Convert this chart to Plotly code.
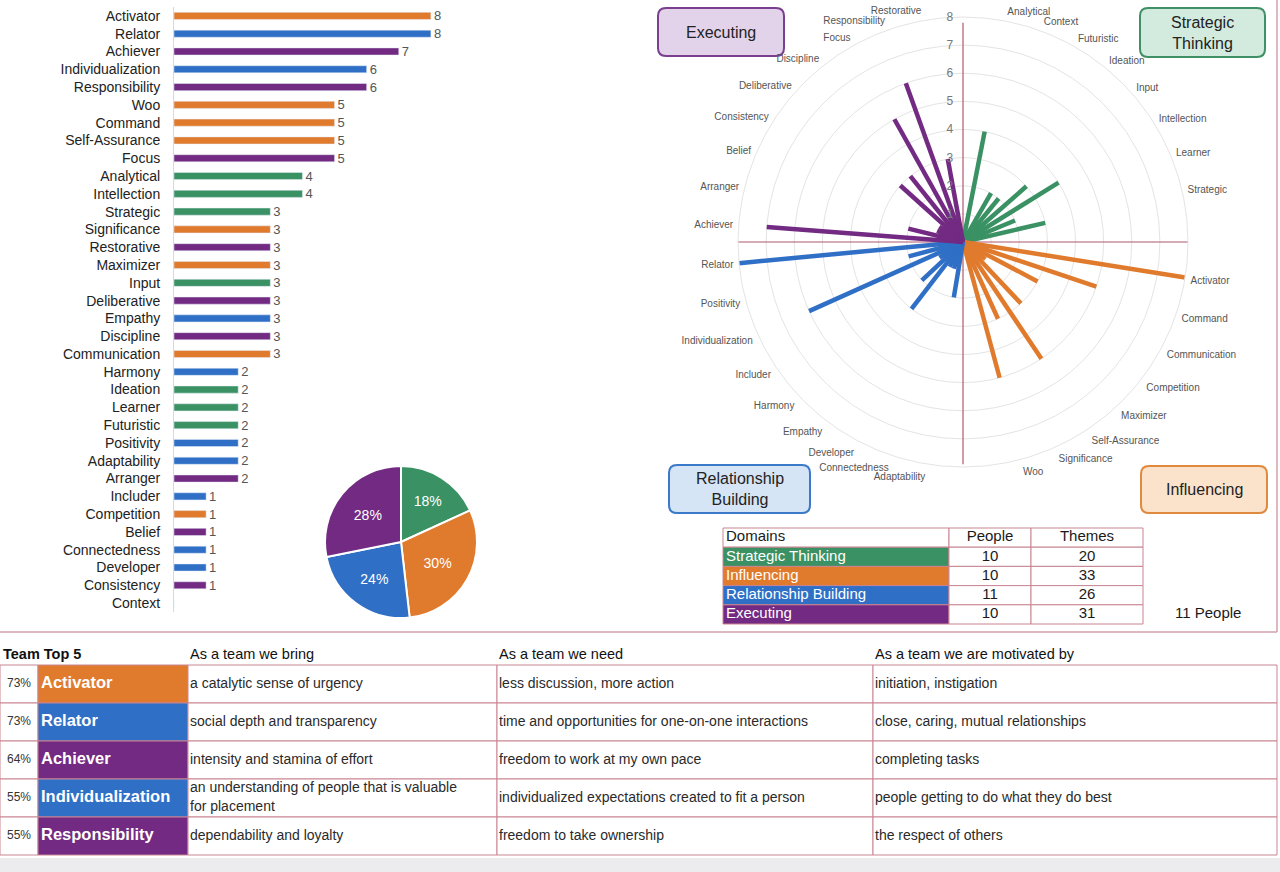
import plotly.graph_objects as go

# theme counts for the team, in the order of the bar chart
themes = ["Activator", "Relator", "Achiever", "Individualization", "Responsibility",
          "Woo", "Command", "Self-Assurance", "Focus", "Analytical", "Intellection",
          "Strategic", "Significance", "Restorative", "Maximizer", "Input",
          "Deliberative", "Empathy", "Discipline", "Communication", "Harmony",
          "Ideation", "Learner", "Futuristic", "Positivity", "Adaptability",
          "Arranger", "Includer", "Competition", "Belief", "Connectedness",
          "Developer", "Consistency", "Context"]
counts = [8, 8, 7, 6, 6, 5, 5, 5, 5, 4, 4, 3, 3, 3, 3, 3, 3, 3, 3, 3,
          2, 2, 2, 2, 2, 2, 2, 1, 1, 1, 1, 1, 1, 0]

domains = ["Strategic Thinking", "Influencing", "Relationship Building", "Executing"]
domain_colors = ["#3a9163", "#e07b2e", "#2f6fc6", "#722a82"]
domain_themes = [
    ["Analytical", "Context", "Futuristic", "Ideation", "Input", "Intellection",
     "Learner", "Strategic"],
    ["Activator", "Command", "Communication", "Competition", "Maximizer",
     "Self-Assurance", "Significance", "Woo"],
    ["Adaptability", "Connectedness", "Developer", "Empathy", "Harmony", "Includer",
     "Individualization", "Positivity", "Relator"],
    ["Achiever", "Arranger", "Belief", "Consistency", "Deliberative", "Discipline",
     "Focus", "Responsibility", "Restorative"],
]
domain_people = [10, 10, 11, 10]
domain_theme_counts = [20, 33, 26, 31]
team_label = "11 People"

# team top 5 table
top5_pct = ["73%", "73%", "64%", "55%", "55%"]
top5_theme = ["Activator", "Relator", "Achiever", "Individualization", "Responsibility"]
top5_bring = ["a catalytic sense of urgency", "social depth and transparency",
              "intensity and stamina of effort",
              "an understanding of people that is valuable<br>for placement",
              "dependability and loyalty"]
top5_need = ["less discussion, more action",
             "time and opportunities for one-on-one interactions",
             "freedom to work at my own pace",
             "individualized expectations created to fit a person",
             "freedom to take ownership"]
top5_motivated = ["initiation, instigation", "close, caring, mutual relationships",
                  "completing tasks", "people getting to do what they do best",
                  "the respect of others"]
top5_headers = ["As a team we bring", "As a team we need", "As a team we are motivated by"]

FONT = "Arial, 'Liberation Sans', sans-serif"
W, H = 1280, 872
GRID = "#c98592"
# angular centre of each domain's quadrant on the radial chart, and spoke spacing
QUAD_CENTRES = [44, 132, 227, 312]
STEP = 9.4

theme_color = {}
for d, names in enumerate(domain_themes):
    for name in names:
        theme_color[name] = domain_colors[d]

fig = go.Figure()

# ---- bar chart
fig.add_trace(go.Bar(
    x=counts, y=themes, orientation="h",
    marker_color=[theme_color[t] for t in themes],
    text=[str(c) if c else "" for c in counts],
    textposition="outside", cliponaxis=False, constraintext="none",
    textfont=dict(size=13, color="#555555"),
    showlegend=False, hoverinfo="skip",
))

# ---- polar spokes, one quadrant per domain
thetas = {}
for d, names in enumerate(domain_themes):
    n = len(names)
    for i, name in enumerate(names):
        thetas[name] = QUAD_CENTRES[d] + (i - (n - 1) / 2) * STEP

fig.add_trace(go.Scatterpolar(
    r=[7.8, 0, 7.9, None, 8.2, 0, 8.4],
    theta=[0, 0, 180, None, 270, 0, 90],
    mode="lines", line=dict(color="#b0596c", width=1.2),
    cliponaxis=False, showlegend=False, hoverinfo="skip",
))
for d, names in enumerate(domain_themes):
    r, th = [], []
    for name in names:
        r += [0, counts[themes.index(name)], None]
        th += [thetas[name], thetas[name], None]
    fig.add_trace(go.Scatterpolar(
        r=r, theta=th, mode="lines",
        line=dict(color=domain_colors[d], width=4.5),
        showlegend=False, hoverinfo="skip",
    ))

all_names = [n for names in domain_themes for n in names]

# ---- pie of themes per domain
fig.add_trace(go.Pie(
    values=domain_theme_counts, labels=domains, sort=False,
    direction="clockwise", rotation=0,
    marker=dict(colors=domain_colors, line=dict(color="white", width=2)),
    texttemplate="%{percent:.0%}", textposition="inside",
    textfont=dict(size=14, color="white"),
    domain=dict(x=[325 / W, 477 / W], y=[1 - 618 / H, 1 - 466 / H]),
    showlegend=False, hoverinfo="skip",
))

shapes = []
annotations = []


def cell(x0, y0, x1, y1, fill="rgba(0,0,0,0)", line=GRID):
    shapes.append(dict(type="rect", xref="x2", yref="y2", x0=x0, y0=y0, x1=x1, y1=y1,
                       fillcolor=fill, line=dict(color=line, width=1), layer="below"))


def rounded(x0, y0, x1, y1, fill, line, rad=8):
    path = (f"M{x0 + rad},{y0} L{x1 - rad},{y0} Q{x1},{y0} {x1},{y0 + rad} "
            f"L{x1},{y1 - rad} Q{x1},{y1} {x1 - rad},{y1} L{x0 + rad},{y1} "
            f"Q{x0},{y1} {x0},{y1 - rad} L{x0},{y0 + rad} Q{x0},{y0} {x0 + rad},{y0} Z")
    shapes.append(dict(type="path", xref="x2", yref="y2", path=path, fillcolor=fill,
                       line=dict(color=line, width=2), layer="below"))


# ---- domain table
cols = [723, 949, 1031, 1143]
top, rh = 528, 19.2
tx, ty, tt, tc, ts, tp = [], [], [], [], [], []
header = ["Domains", "People", "Themes"]
rows = [[domains[i], str(domain_people[i]), str(domain_theme_counts[i])] for i in range(4)]
for ri, row in enumerate([header] + rows):
    y0 = top + ri * rh
    for ci, val in enumerate(row):
        fill = domain_colors[ri - 1] if (ri > 0 and ci == 0) else "white"
        cell(cols[ci], y0, cols[ci + 1], y0 + rh, fill)
        if ci == 0:
            tx.append(cols[0] + 3)
            tp.append("middle right")
        else:
            tx.append((cols[ci] + cols[ci + 1]) / 2)
            tp.append("middle center")
        ty.append(y0 + rh / 2)
        tt.append(val)
        tc.append("white" if (ri > 0 and ci == 0) else "#1a1a1a")
        ts.append(15)
tx.append(1175); ty.append(614); tt.append(team_label)
tc.append("#1a1a1a"); ts.append(15); tp.append("middle right")

# ---- team top 5 table
bcols = [0, 38, 188, 497, 873, 1277]
btop, brh = 665, 38
hx = [3, bcols[2] + 2, bcols[3] + 2, bcols[4] + 2]
htxt = ["<b>Team Top 5</b>"] + top5_headers
for x, t in zip(hx, htxt):
    tx.append(x); ty.append(655); tt.append(t)
    tc.append("#111111"); ts.append(14.5); tp.append("middle right")
for ri in range(5):
    y0 = btop + ri * brh
    yc = y0 + brh / 2
    vals = [top5_pct[ri], "<b>" + top5_theme[ri] + "</b>", top5_bring[ri],
            top5_need[ri], top5_motivated[ri]]
    for ci, val in enumerate(vals):
        fill = theme_color[top5_theme[ri]] if ci == 1 else "white"
        cell(bcols[ci], y0, bcols[ci + 1], y0 + brh, fill)
        ty.append(yc)
        tt.append(val)
        if ci == 0:
            tx.append((bcols[0] + bcols[1]) / 2); tp.append("middle center")
            tc.append("#333333"); ts.append(12)
        elif ci == 1:
            tx.append(bcols[1] + 3); tp.append("middle right")
            tc.append("white"); ts.append(16.5)
        else:
            tx.append(bcols[ci] + 2); tp.append("middle right")
            tc.append("#2a2a2a"); ts.append(14)

fig.add_trace(go.Scatter(
    x=tx, y=ty, text=tt, mode="text", textposition=tp,
    textfont=dict(color=tc, size=ts, family=FONT),
    xaxis="x2", yaxis="y2", showlegend=False, hoverinfo="skip",
))

# frame of the upper panel and grey strip at the bottom
shapes.append(dict(type="line", xref="x2", yref="y2", x0=0, y0=632, x1=1277, y1=632,
                   line=dict(color="#d3a1ab", width=1.5), layer="below"))
shapes.append(dict(type="line", xref="x2", yref="y2", x0=1277, y0=0, x1=1277, y1=632,
                   line=dict(color="#d3a1ab", width=1.5), layer="below"))
shapes.append(dict(type="rect", xref="x2", yref="y2", x0=0, y0=858, x1=W, y1=H,
                   fillcolor="#ececef", line=dict(width=0), layer="below"))

# domain call-out boxes around the radial chart
boxes = [
    ("Executing", 658, 8, 784, 56, "#e2d2ea", "#7a3f8f"),
    ("Strategic<br>Thinking", 1140, 8, 1265, 57, "#d3ebdf", "#3f9066"),
    ("Relationship<br>Building", 669, 465, 810, 513, "#d5e5f6", "#3b79c9"),
    ("Influencing", 1141, 466, 1267, 513, "#fbe2cb", "#e08a3f"),
]
for label, x0, y0, x1, y1, fill, line in boxes:
    rounded(x0, y0, x1, y1, fill, line)
    annotations.append(dict(x=(x0 + x1) / 2, y=(y0 + y1) / 2, xref="x2", yref="y2",
                            text=label, showarrow=False,
                            font=dict(size=16, color="#222222", family=FONT)))

fig.update_layout(
    width=W, height=H,
    margin=dict(l=0, r=0, t=0, b=0),
    paper_bgcolor="white", plot_bgcolor="rgba(0,0,0,0)",
    font=dict(family=FONT),
    bargap=0.6,
    hovermode=False,
    xaxis=dict(domain=[174 / W, 463 / W], range=[0, 9], visible=False, fixedrange=True),
    yaxis=dict(domain=[1 - 612 / H, 1 - 7 / H], autorange="reversed",
               tickfont=dict(size=14, color="#222222"),
               showline=True, linecolor="#d9d9d9", linewidth=1,
               ticks="outside", ticklen=10, tickcolor="rgba(0,0,0,0)",
               showgrid=False, fixedrange=True),
    xaxis2=dict(domain=[0, 1], range=[0, W], visible=False, anchor="y2", fixedrange=True),
    yaxis2=dict(domain=[0, 1], range=[H, 0], visible=False, anchor="x2", fixedrange=True),
    polar=dict(
        domain=dict(x=[(963 - 225) / W, (963 + 225) / W],
                    y=[1 - (242 + 225) / H, 1 - (242 - 225) / H]),
        bgcolor="rgba(0,0,0,0)",
        radialaxis=dict(range=[0, 8], tickvals=list(range(1, 9)), angle=90,
                        tickangle=90, side="counterclockwise", showline=False,
                        ticks="outside", ticklen=5, tickcolor="rgba(0,0,0,0)",
                        gridcolor="#e4e4e4",
                        tickfont=dict(size=12, color="#777777")),
        angularaxis=dict(rotation=90, direction="clockwise", tickmode="array",
                         tickvals=[thetas[n] for n in all_names], ticktext=all_names,
                         showgrid=False, linecolor="#e4e4e4", ticks="outside",
                         ticklen=3, tickcolor="rgba(0,0,0,0)",
                         tickfont=dict(size=10, color="#555555")),
    ),
    shapes=shapes,
    annotations=annotations,
)

fig.write_html("out.html", config={"displayModeBar": False},
               post_script="document.body.style.margin='0px';")
